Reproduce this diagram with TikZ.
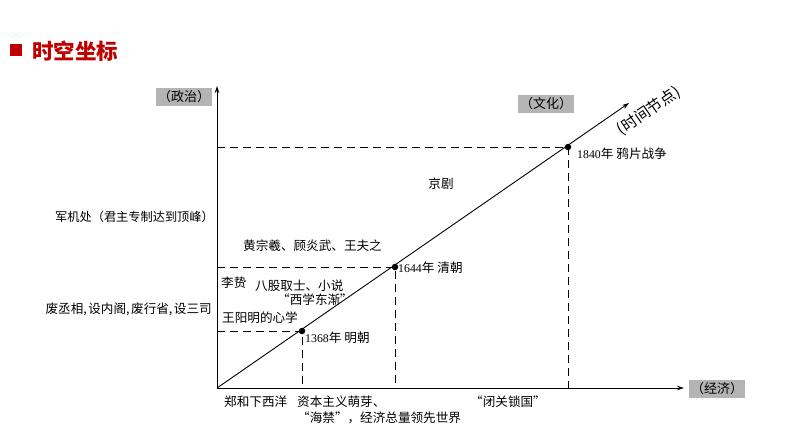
\documentclass[tikz,border=0pt]{standalone}
\usepackage{fontspec}
\setmainfont{Liberation Serif}
\newfontfamily\cjk{Noto Sans CJK SC}
\usetikzlibrary{arrows.meta}
\definecolor{titlered}{HTML}{C00000}
\definecolor{boxgray}{HTML}{B4B4B4}
\tikzset{
  axis/.style={line width=0.9pt,-{Stealth[length=7pt,width=4.5pt]}},
  guide/.style={line width=0.9pt,dash pattern=on 8pt off 5pt},
  lbl/.style={inner sep=0pt,font=\cjk\fontsize{12.6}{14}\selectfont},
  axlbl/.style={fill=boxgray,inner xsep=2pt,inner ysep=3pt,font=\cjk\fontsize{13}{15}\selectfont},
  dot/.style={circle,fill=black,inner sep=0pt,minimum size=6.5pt}
}
\newcommand{\yr}[1]{{\fontsize{11.8}{13}\selectfont\rmfamily #1}}
\newcommand{\cm}{,\hspace{1.5pt}}
\begin{document}
\begin{tikzpicture}[x=1pt,y=-1pt]
\useasboundingbox (0,0) rectangle (794,447);
% title
\fill[titlered] (10,44) rectangle (22,56);
\node[anchor=west,inner sep=0pt,text=titlered,font=\cjk\bfseries\fontsize{21.5}{23}\selectfont] (title) at (32,51) {时空坐标};
% axes
\coordinate (O) at (217,388);
\coordinate (Ytop) at (217,86);
\coordinate (Xend) at (684,388);
\coordinate (Dend) at (629,103);
\draw[axis] (O) -- (Ytop);
\draw[axis] (O) -- (Xend);
\draw[axis] (O) -- (Dend);
% dots
\node[dot] (d1368) at (302,331) {};
\node[dot] (d1644) at (395,267) {};
\node[dot] (d1840) at (568,147) {};
\coordinate (y1368) at (217,331);
\coordinate (y1644) at (217,267);
\coordinate (y1840) at (217,147);
\coordinate (x1368) at (302,388);
\coordinate (x1644) at (395,388);
\coordinate (x1840) at (568,388);
\draw[guide] (y1368) -- (d1368.center) -- (x1368);
\draw[guide] (y1644) -- (d1644.center) -- (x1644);
\draw[guide] (y1840) -- (d1840.center) -- (x1840);
% axis labels
\node[axlbl] (zz) at (184,97) {（政治）};
\node[axlbl] (wh) at (546,104) {（文化）};
\node[axlbl] (jj) at (717,389) {（经济）};
\node[inner sep=0pt,rotate=34.5,font=\cjk\fontsize{15.5}{17}\selectfont] (sjjd) at (649,111) {(时间节点)};
% date labels
\node[lbl,anchor=west] (t1840) at (577,154) {\yr{1840}年\hspace{3pt}鸦片战争};
\node[lbl,anchor=west] (t1644) at (398,268) {\yr{1644}年\hspace{3pt}清朝};
\node[lbl,anchor=west] (t1368) at (305,338) {\yr{1368}年\hspace{3pt}明朝};
% culture
\node[lbl] (jingju) at (441,184) {京剧};
\node[lbl,anchor=west] (huang) at (243,246) {黄宗羲、顾炎武、王夫之};
\node[lbl,anchor=west] (lizhi) at (221,283) {李贽};
\node[lbl,anchor=west] (bagu) at (255,286) {八股取士、小说};
\node[lbl] (xixue) at (315,300) {“西学东渐”};
\node[lbl,anchor=west] (wang) at (222,318) {王阳明的心学};
% politics
\node[lbl,anchor=east,font=\cjk\fontsize{12.2}{14}\selectfont] (jjc) at (214,217) {军机处（君主专制达到顶峰）};
\node[lbl,anchor=east] (fcx) at (212,309) {废丞相\cm 设内阁\cm 废行省\cm 设三司};
% economy
\node[lbl,anchor=west] (zhenghe) at (224,402) {郑和下西洋};
\node[lbl,anchor=west] (zbzy) at (297,402) {资本主义萌芽、};
\node[lbl,anchor=west] (haijin) at (297,418) {“海禁”，经济总量领先世界};
\node[lbl,anchor=west] (bgsg) at (470,402) {“闭关锁国”};
\end{tikzpicture}
\end{document}
